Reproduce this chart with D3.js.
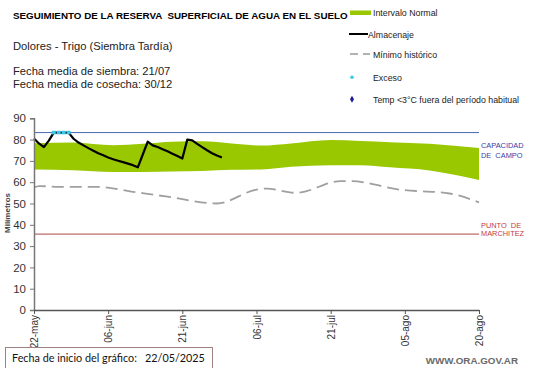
<!DOCTYPE html>
<html><head><meta charset="utf-8">
<script src="https://cdn.jsdelivr.net/npm/d3@7"></script>
<style>
body{margin:0;background:#fff;}
svg{display:block;font-family:"Liberation Sans",Arial,sans-serif;}
</style></head>
<body><svg id="c" width="541" height="368"></svg>
<script>
// ---- data (day index from 22/05/2025) ----
const xTickDays = [0,15,30,45,60,75,90];
const xTickLabels = ["22-may","06-jun","21-jun","06-jul","21-jul","05-ago","20-ago"];
const yTicks = [0,10,20,30,40,50,60,70,80,90];

const bandDays   = [0, 8, 16, 22, 28, 34, 40, 46, 52, 60, 66, 72, 80, 90];
const bandTop    = [78.3,78.6,77.3,78.0,79.0,79.2,78.2,77.2,78.2,79.8,79.4,78.8,78.0,76.0];
const bandBottom = [66.0,65.6,64.8,64.8,65.0,65.3,65.8,66.0,67.2,68.0,68.0,67.0,65.5,61.0];

const storeDays = [0,1,2,3,4,5,6,7,8,9,10,11,12,13,14,15,16,17,18,19,20,21,22,23,24,25,26,27,28,29,30,31,32,33,34,35,36,37,38];
const storeVals = [80.5,78.2,76.5,79.5,83.3,83.3,83.3,83.3,80.4,78.6,77.3,76.0,74.8,73.6,72.6,71.6,70.8,70.1,69.4,68.7,68.0,67.0,73.0,79.0,77.3,76.5,75.5,74.5,73.4,72.3,71.1,80.0,79.6,78.0,76.5,75.0,73.6,72.5,71.6];

const excesoDays = [4,5,6,7];
const excesoVals = [83.3,83.3,83.3,83.3];

const minDays = [0, 1, 5, 13, 20, 27, 37, 45, 47, 53, 62, 64, 74, 84, 90];
const minVals = [57.5,58.2,57.8,57.8,55.5,53.2,50.0,56.5,57.0,55.0,60.5,60.5,56.5,54.7,50.5];

const capacidadCampo = 83.3;
const puntoMarchitez = 35.6;

// ---- drawing ----
const svg = d3.select("#c");
const x = d3.scaleLinear().domain([0,90]).range([34,479]);
const y = d3.scaleLinear().domain([0,90]).range([310,118.3]);

// band
const band = bandDays.map((d,i)=>({d, t:bandTop[i], b:bandBottom[i]}));
svg.append("path").datum(band)
  .attr("fill","#99c800")
  .attr("d", d3.area().x(p=>x(p.d)).y0(p=>y(p.b)).y1(p=>y(p.t)).curve(d3.curveMonotoneX));

// reference lines
svg.append("line").attr("x1",x(0)).attr("x2",x(90)).attr("y1",y(capacidadCampo)).attr("y2",y(capacidadCampo))
  .attr("stroke","#4a68b0").attr("stroke-width",1);
svg.append("line").attr("x1",x(0)).attr("x2",x(90)).attr("y1",y(puntoMarchitez)).attr("y2",y(puntoMarchitez))
  .attr("stroke","#c06a6a").attr("stroke-width",1.2);

// minimum historic
const mins = minDays.map((d,i)=>({d, v:minVals[i]}));
svg.append("path").datum(mins)
  .attr("fill","none").attr("stroke","#a0a0a0").attr("stroke-width",1.8)
  .attr("stroke-dasharray","12,6")
  .attr("d", d3.line().x(p=>x(p.d)).y(p=>y(p.v)).curve(d3.curveMonotoneX));

// storage
const store = storeDays.map((d,i)=>({d, v:storeVals[i]}));
svg.append("path").datum(store)
  .attr("fill","none").attr("stroke","#000").attr("stroke-width",2.2).attr("stroke-linejoin","round")
  .attr("d", d3.line().x(p=>x(p.d)).y(p=>y(p.v)));

// exceso markers
svg.selectAll(".ex").data(excesoDays.map((d,i)=>({d,v:excesoVals[i]}))).enter()
  .append("rect").attr("x",p=>x(p.d)-2).attr("y",p=>y(p.v)-1.8).attr("width",4).attr("height",3.6)
  .attr("fill","#3cc8e8");

// axes
const yAxis = d3.axisLeft(y).tickValues(yTicks).tickSize(4).tickPadding(4);
const gy = svg.append("g").attr("transform","translate(34,0)").call(yAxis);
gy.select(".domain").attr("stroke","#777").attr("stroke-width",1.5);
gy.selectAll(".tick line").attr("stroke","#777");
gy.selectAll("text").attr("font-size",11.5).attr("fill","#333").attr("font-family","Liberation Sans, Arial");

const xAxis = d3.axisBottom(x).tickValues(xTickDays).tickFormat((d,i)=>xTickLabels[i]).tickSize(4).tickSizeOuter(0);
const gx = svg.append("g").attr("transform","translate(0,310)").call(xAxis);
gx.select(".domain").attr("stroke","#555").attr("stroke-width",1.5);
gx.selectAll(".tick line").attr("stroke","#555");
gx.selectAll("text").attr("font-size",10).attr("fill","#333").attr("font-family","Liberation Sans, Arial")
  .attr("transform","rotate(-90)").attr("text-anchor","end").attr("dy","0.35em").attr("x",-5).attr("y",0);

// y label
svg.append("text").attr("transform","translate(10,213) rotate(-90)").attr("text-anchor","middle")
  .attr("font-size",8).attr("font-weight","bold").attr("fill","#444").text("Milímetros");

// header texts
svg.append("text").attr("x",13).attr("y",19).attr("font-size",9.8).attr("font-weight","bold").attr("fill","#000")
  .text("SEGUIMIENTO DE LA RESERVA  SUPERFICIAL DE AGUA EN EL SUELO").style("white-space","pre");
svg.append("text").attr("x",13).attr("y",50).attr("font-size",11.2).attr("fill","#222").text("Dolores - Trigo (Siembra Tardía)");
svg.append("text").attr("x",13).attr("y",75).attr("font-size",11.2).attr("fill","#222").text("Fecha media de siembra: 21/07");
svg.append("text").attr("x",13).attr("y",88).attr("font-size",11.2).attr("fill","#222").text("Fecha media de cosecha: 30/12");

// legend
const lg = svg.append("g").attr("font-size",8.8).attr("fill","#222");
lg.append("rect").attr("x",350).attr("y",10.5).attr("width",21).attr("height",4.5).attr("fill","#99c800");
lg.append("text").attr("x",373).attr("y",16).text("Intervalo Normal");
lg.append("line").attr("x1",349).attr("x2",368).attr("y1",34).attr("y2",34).attr("stroke","#000").attr("stroke-width",2);
lg.append("text").attr("x",368).attr("y",37.5).text("Almacenaje");
lg.append("line").attr("x1",350).attr("x2",370).attr("y1",54).attr("y2",54).attr("stroke","#999").attr("stroke-width",1.5).attr("stroke-dasharray","8,5");
lg.append("text").attr("x",373).attr("y",57.5).text("Mínimo histórico");
lg.append("circle").attr("cx",352).attr("cy",77.3).attr("r",1.8).attr("fill","#3cc8e8");
lg.append("text").attr("x",373).attr("y",81).text("Exceso");
lg.append("path").attr("d",d3.symbol(d3.symbolDiamond,14)()).attr("transform","translate(352,99.3)").attr("fill","#1a1aa0");
lg.append("text").attr("x",373).attr("y",103).text("Temp <3°C fuera del período habitual");

// reference line labels
const cc = svg.append("g").attr("font-size",7.4).attr("fill","#3a3aa8");
cc.append("text").attr("x",481).attr("y",148).text("CAPACIDAD");
cc.append("text").attr("x",481).attr("y",157.5).text("DE  CAMPO").style("white-space","pre");
const pm = svg.append("g").attr("font-size",7.4).attr("fill","#c83a3a");
pm.append("text").attr("x",481).attr("y",227.5).text("PUNTO  DE").style("white-space","pre");
pm.append("text").attr("x",481).attr("y",236).text("MARCHITEZ");

// footer
svg.append("rect").attr("x",5.5).attr("y",347.5).attr("width",207).attr("height",21).attr("fill","#fff").attr("stroke","#a08080");
svg.append("text").attr("x",12).attr("y",362).attr("font-size",10.8).attr("fill","#111").attr("font-family","Lato, sans-serif").text("Fecha de inicio del gráfico:");
svg.append("text").attr("x",145).attr("y",362).attr("font-size",10.8).attr("fill","#111").attr("font-family","Lato, sans-serif").text("22/05/2025");
svg.append("text").attr("x",518).attr("y",364).attr("text-anchor","end").attr("font-size",9.8).attr("font-weight","bold").attr("fill","#6a6a6a").text("WWW.ORA.GOV.AR");
</script></body></html>
